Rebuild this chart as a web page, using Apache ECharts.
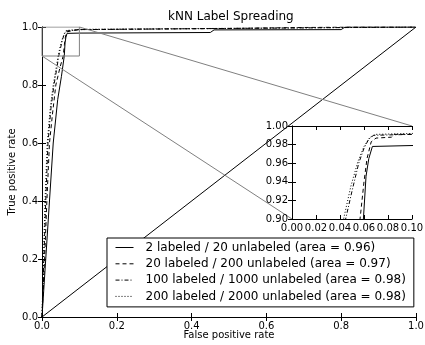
<!DOCTYPE html>
<html>
<head>
<meta charset="utf-8">
<script src="https://cdn.jsdelivr.net/npm/echarts@6/dist/echarts.min.js"></script>
<style>html,body{margin:0;padding:0;background:#fff}#c{width:425px;height:345px}</style>
</head>
<body>
<div id="c"></div>
<script>
// ---- data ----
var titleText = 'kNN Label Spreading';
var xName = 'False positive rate';
var yName = 'True positive rate';
var seriesNames = [
  '2 labeled / 20 unlabeled (area = 0.96)',
  '20 labeled / 200 unlabeled (area = 0.97)',
  '100 labeled / 1000 unlabeled (area = 0.98)',
  '200 labeled / 2000 unlabeled (area = 0.98)'
];
var fpr1 = [0, 0.010, 0.020, 0.030, 0.042, 0.052, 0.0595, 0.0617, 0.064, 0.067, 0.100, 0.450, 0.460, 0.800, 0.810, 1.0];
var tpr1 = [0, 0.20, 0.40, 0.60, 0.75, 0.83, 0.900, 0.946, 0.965, 0.978, 0.979, 0.981, 0.990, 0.991, 1.0, 1.0];
var fpr2 = [0, 0.007, 0.013, 0.020, 0.028, 0.037, 0.048, 0.0567, 0.060, 0.0625, 0.066, 0.070, 0.083, 0.085, 0.100, 0.500, 0.800, 1.0];
var tpr2 = [0, 0.20, 0.40, 0.60, 0.70, 0.80, 0.86, 0.900, 0.940, 0.965, 0.983, 0.987, 0.988, 0.991, 0.991, 0.995, 1.0, 1.0];
var fpr3 = [0, 0.005, 0.010, 0.016, 0.024, 0.032, 0.040, 0.0447, 0.050, 0.0556, 0.060, 0.064, 0.068, 0.100, 0.600, 1.0];
var tpr3 = [0, 0.20, 0.40, 0.60, 0.72, 0.80, 0.86, 0.900, 0.930, 0.960, 0.976, 0.986, 0.990, 0.991, 0.996, 1.0];
var fpr4 = [0, 0.004, 0.008, 0.014, 0.022, 0.030, 0.038, 0.043, 0.049, 0.055, 0.060, 0.065, 0.070, 0.100, 0.700, 1.0];
var tpr4 = [0, 0.20, 0.40, 0.60, 0.72, 0.80, 0.86, 0.900, 0.935, 0.962, 0.978, 0.988, 0.991, 0.992, 0.997, 1.0];
var chanceX = [0, 1];
var chanceY = [0, 1];
var zoomBoxX = [0, 0.1, 0.1, 0, 0];
var zoomBoxY = [0.9, 0.9, 1.0, 1.0, 0.9];

function pairs(xs, ys) { return xs.map(function (x, i) { return [x, ys[i]]; }); }

var FONT = 'DejaVu Sans';
var dashStyles = ['solid', [4, 3], [4, 2, 1, 2], [1, 2]];
var curves = [[fpr1, tpr1], [fpr2, tpr2], [fpr3, tpr3], [fpr4, tpr4]];

var chart = echarts.init(document.getElementById('c'), null, {renderer: 'canvas'});

function axisBase(extra) {
  var a = {
    axisLine: {show: true, lineStyle: {color: '#000', width: 1}},
    axisTick: {show: true, inside: true, length: 4, lineStyle: {color: '#000'}},
    splitLine: {show: false},
    axisLabel: {color: '#000', fontFamily: FONT, fontSize: 10, margin: 4},
    animation: false
  };
  for (var k in extra) a[k] = extra[k];
  return a;
}

var series = [];
curves.forEach(function (c, i) {
  series.push({
    name: seriesNames[i], type: 'line', xAxisIndex: 0, yAxisIndex: 0,
    data: pairs(c[0], c[1]), symbol: 'none', z: 2,
    lineStyle: {color: '#000', width: 1, type: dashStyles[i]},
    itemStyle: {color: 'rgba(0,0,0,0)', borderWidth: 0}
  });
});
series.push({
  name: 'chance', type: 'line', xAxisIndex: 0, yAxisIndex: 0,
  data: pairs(chanceX, chanceY), symbol: 'none', z: 2,
  lineStyle: {color: '#000', width: 1}
});
series.push({
  name: 'zoombox', type: 'line', xAxisIndex: 0, yAxisIndex: 0,
  data: pairs(zoomBoxX, zoomBoxY), symbol: 'none', z: 2,
  lineStyle: {color: '#808080', width: 1}
});
curves.forEach(function (c, i) {
  series.push({
    name: 'inset' + i, type: 'line', xAxisIndex: 2, yAxisIndex: 2,
    data: pairs(c[0], c[1]), symbol: 'none', z: 11, clip: true,
    lineStyle: {color: '#000', width: 1, type: dashStyles[i]}
  });
});

var option = {
  animation: false,
  backgroundColor: '#fff',
  title: {
    text: titleText, left: 168, top: 11, padding: 0,
    textStyle: {fontFamily: FONT, fontSize: 12, fontWeight: 'normal', color: '#000'}
  },
  legend: {
    data: seriesNames, orient: 'vertical', left: 107, top: 238,
    padding: [3.5, 8, 4.5, 8], itemGap: 4.3, itemWidth: 18, itemHeight: 13,
    backgroundColor: '#fff', borderColor: '#000', borderWidth: 1, borderRadius: 0,
    selectedMode: false, z: 4,
    lineStyle: {width: 1},
    itemStyle: {color: 'rgba(0,0,0,0)', borderWidth: 0},
    textStyle: {fontFamily: FONT, fontSize: 12, color: '#000', padding: [0, 0, 0, 7]}
  },
  grid: [
    {left: 42, top: 27, width: 374, height: 290, containLabel: false, outerBoundsMode: 'none'},
    {left: 292, top: 126, width: 120, height: 93, containLabel: false, outerBoundsMode: 'none', show: true, backgroundColor: '#fff', borderWidth: 0, z: 10}
  ],
  xAxis: [
    axisBase({gridIndex: 0, type: 'value', min: 0, max: 1, interval: 0.2, position: 'bottom',
      name: xName, nameLocation: 'middle', nameGap: 13, nameMoveOverlap: false,
      nameTextStyle: {fontFamily: FONT, fontSize: 10, color: '#000'},
      axisLabel: {color: '#000', fontFamily: FONT, fontSize: 10, margin: 4, formatter: function (v) { return v.toFixed(1); }}}),
    axisBase({gridIndex: 0, type: 'value', min: 0, max: 1, interval: 0.2, position: 'top', axisLabel: {show: false}}),
    axisBase({gridIndex: 1, type: 'value', min: 0, max: 0.1, interval: 0.02, position: 'bottom', z: 12,
      axisLabel: {color: '#000', fontFamily: FONT, fontSize: 10, margin: 4, showMinLabel: true, showMaxLabel: true, formatter: function (v) { return v.toFixed(2); }}}),
    axisBase({gridIndex: 1, type: 'value', min: 0, max: 0.1, interval: 0.02, position: 'top', z: 12, axisLabel: {show: false}})
  ],
  yAxis: [
    axisBase({gridIndex: 0, type: 'value', min: 0, max: 1, interval: 0.2, position: 'left',
      name: yName, nameLocation: 'middle', nameGap: 25, nameMoveOverlap: false,
      nameTextStyle: {fontFamily: FONT, fontSize: 10, color: '#000'},
      axisLabel: {color: '#000', fontFamily: FONT, fontSize: 10, margin: 4, formatter: function (v) { return v.toFixed(1); }}}),
    axisBase({gridIndex: 0, type: 'value', min: 0, max: 1, interval: 0.2, position: 'right', axisLabel: {show: false}}),
    axisBase({gridIndex: 1, type: 'value', min: 0.9, max: 1.0, interval: 0.02, position: 'left', z: 12,
      axisLabel: {color: '#000', fontFamily: FONT, fontSize: 10, margin: 4, showMinLabel: true, showMaxLabel: true, formatter: function (v) { return v.toFixed(2); }}}),
    axisBase({gridIndex: 1, type: 'value', min: 0.9, max: 1.0, interval: 0.02, position: 'right', z: 12, axisLabel: {show: false}})
  ],
  series: series
};
chart.setOption(option);

// connector lines from the zoom box corners to the inset corners
var a1 = chart.convertToPixel({xAxisIndex: 0, yAxisIndex: 0}, [zoomBoxX[0], zoomBoxY[0]]);
var b1 = chart.convertToPixel({xAxisIndex: 2, yAxisIndex: 2}, [zoomBoxX[0], zoomBoxY[0]]);
var a2 = chart.convertToPixel({xAxisIndex: 0, yAxisIndex: 0}, [zoomBoxX[2], zoomBoxY[2]]);
var b2 = chart.convertToPixel({xAxisIndex: 2, yAxisIndex: 2}, [zoomBoxX[2], zoomBoxY[2]]);
chart.setOption({
  graphic: [
    {type: 'line', z: 3, silent: true, shape: {x1: a1[0], y1: a1[1], x2: b1[0], y2: b1[1]}, style: {stroke: '#808080', lineWidth: 1}},
    {type: 'line', z: 3, silent: true, shape: {x1: a2[0], y1: a2[1], x2: b2[0], y2: b2[1]}, style: {stroke: '#808080', lineWidth: 1}}
  ]
});
</script>
</body>
</html>
